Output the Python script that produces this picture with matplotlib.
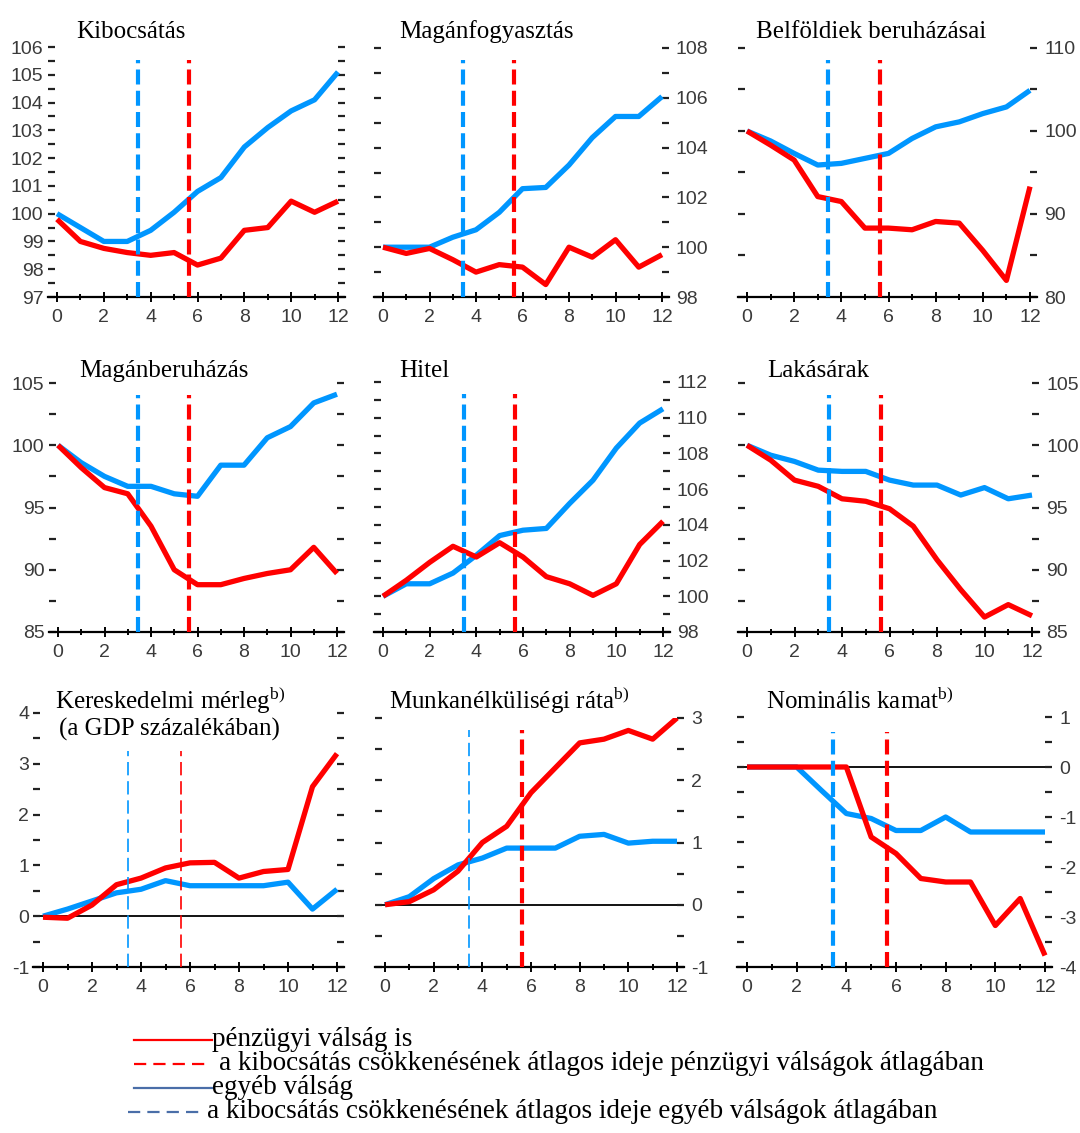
import matplotlib
matplotlib.use("Agg")
import matplotlib.pyplot as plt
from matplotlib.lines import Line2D
from matplotlib.ticker import MultipleLocator

plt.rcParams['mathtext.fontset'] = 'custom'
plt.rcParams['mathtext.rm'] = 'Liberation Serif'
plt.rcParams['mathtext.it'] = 'Liberation Serif:italic'
plt.rcParams['axes.unicode_minus'] = False

# ---------------- data ----------------
quarters = [0, 1, 2, 3, 4, 5, 6, 7, 8, 9, 10, 11, 12]
x_tick_labels = [0, 2, 4, 6, 8, 10, 12]
avg_fin_crisis = 5.65    # red dashed
avg_other_crisis = 3.45  # blue dashed

kib_fin   = [99.8, 99.0, 98.75, 98.6, 98.5, 98.6, 98.15, 98.4, 99.4, 99.5, 100.45, 100.05, 100.45]
kib_other = [100.0, 99.5, 99.0, 99.0, 99.4, 100.05, 100.8, 101.3, 102.4, 103.1, 103.7, 104.1, 105.1]

mf_fin   = [100.0, 99.75, 99.95, 99.5, 99.0, 99.3, 99.2, 98.5, 100.0, 99.6, 100.3, 99.2, 99.7]
mf_other = [100.0, 100.0, 100.0, 100.4, 100.7, 101.4, 102.35, 102.4, 103.3, 104.4, 105.25, 105.25, 106.05]

bb_fin   = [100.0, 98.3, 96.5, 92.1, 91.5, 88.3, 88.3, 88.1, 89.1, 88.9, 85.6, 82.0, 93.3]
bb_other = [100.0, 98.8, 97.3, 95.9, 96.1, 96.7, 97.3, 99.1, 100.5, 101.1, 102.1, 102.9, 104.9]

mb_fin   = [100.0, 98.2, 96.6, 96.1, 93.5, 90.0, 88.8, 88.8, 89.3, 89.7, 90.0, 91.8, 89.7]
mb_other = [100.0, 98.6, 97.5, 96.7, 96.7, 96.1, 95.9, 98.4, 98.4, 100.6, 101.5, 103.4, 104.1]

hit_fin   = [100.0, 100.9, 101.9, 102.8, 102.2, 103.0, 102.2, 101.1, 100.7, 100.05, 100.7, 102.9, 104.2]
hit_other = [100.0, 100.7, 100.7, 101.3, 102.3, 103.4, 103.7, 103.8, 105.2, 106.5, 108.3, 109.7, 110.5]

lak_fin   = [100.0, 98.8, 97.2, 96.7, 95.7, 95.5, 94.9, 93.5, 90.8, 88.4, 86.2, 87.2, 86.3]
lak_other = [100.0, 99.2, 98.7, 98.0, 97.9, 97.9, 97.2, 96.8, 96.8, 96.0, 96.6, 95.7, 96.0]

ker_fin   = [-0.02, -0.04, 0.22, 0.62, 0.75, 0.95, 1.05, 1.06, 0.75, 0.88, 0.92, 2.55, 3.2]
ker_other = [0.0, 0.14, 0.3, 0.46, 0.53, 0.7, 0.6, 0.6, 0.6, 0.6, 0.67, 0.14, 0.53]

mun_fin   = [0.0, 0.05, 0.24, 0.54, 1.0, 1.26, 1.8, 2.2, 2.6, 2.66, 2.8, 2.66, 3.0]
mun_other = [0.0, 0.13, 0.42, 0.64, 0.75, 0.91, 0.91, 0.91, 1.1, 1.13, 0.99, 1.02, 1.02]

kam_fin   = [0.0, 0.0, 0.0, 0.0, 0.0, -1.4, -1.73, -2.23, -2.3, -2.3, -3.17, -2.63, -3.77]
kam_other = [0.0, 0.0, 0.0, -0.47, -0.93, -1.03, -1.27, -1.27, -1.0, -1.3, -1.3, -1.3, -1.3]

legend_labels = [
    "pénzügyi válság is",
    "a kibocsátás csökkenésének átlagos ideje pénzügyi válságok átlagában",
    "egyéb válság",
    "a kibocsátás csökkenésének átlagos ideje egyéb válságok átlagában",
]

# ---------------- style ----------------
W, H = 1080, 1133
RED = '#ff0000'
BLUE = '#0096ff'
LEG_BLUE = '#4a6ea8'
TICK_COLOR = '#3a3a3a'
TICK_FONT = ['Liberation Sans Narrow', 'Liberation Sans', 'DejaVu Sans']
SERIF = ['Liberation Serif', 'DejaVu Serif']
XMIN, XMAX = -0.4, 12.3

fig = plt.figure(figsize=(W / 100, H / 100), dpi=100)

panels = [
    dict(fin=kib_fin, other=kib_other, ylim=(97, 106), major=1, minor=0.5, side='left',
         geo=(57, 338, 47, 297), title='Kibocsátás', tpos=(76, 38), thick=(True, True), ymax=0.95, zero=False),
    dict(fin=mf_fin, other=mf_other, ylim=(98, 108), major=2, minor=1, side='right',
         geo=(383, 662, 48, 297), title='Magánfogyasztás', tpos=(399, 38), thick=(True, True), ymax=0.95, zero=False),
    dict(fin=bb_fin, other=bb_other, ylim=(80, 110), major=10, minor=5, side='right',
         geo=(747, 1030, 48, 297), title='Belföldiek beruházásai', tpos=(756, 38), thick=(True, True), ymax=0.95, zero=False),
    dict(fin=mb_fin, other=mb_other, ylim=(85, 105), major=5, minor=2.5, side='left',
         geo=(58, 337, 383, 632), title='Magánberuházás', tpos=(79, 377), thick=(True, True), ymax=0.95, zero=False),
    dict(fin=hit_fin, other=hit_other, ylim=(98, 112), major=2, minor=1, side='right',
         geo=(383, 663, 382, 632), title='Hitel', tpos=(399, 377), thick=(True, True), ymax=0.95, zero=False),
    dict(fin=lak_fin, other=lak_other, ylim=(85, 105), major=5, minor=2.5, side='right',
         geo=(747, 1032, 383, 632), title='Lakásárak', tpos=(767, 377), thick=(True, True), ymax=0.95, zero=False),
    dict(fin=ker_fin, other=ker_other, ylim=(-1, 4), major=1, minor=0.5, side='left',
         geo=(43, 337, 713, 967), title='Kereskedelmi mérleg$^{\\mathrm{b)}}$', tpos=(55, 708),
         thick=(False, False), ymax=0.85, zero=True),
    dict(fin=mun_fin, other=mun_other, ylim=(-1, 3), major=1, minor=0.5, side='right',
         geo=(385, 677, 718, 967), title='Munkanélküliségi ráta$^{\\mathrm{b)}}$', tpos=(389, 708),
         thick=(True, False), ymax=0.95, zero=True),
    dict(fin=kam_fin, other=kam_other, ylim=(-4, 1), major=1, minor=0.5, side='right',
         geo=(747, 1045, 717, 967), title='Nominális kamat$^{\\mathrm{b)}}$', tpos=(766, 708),
         thick=(True, True), ymax=0.94, zero=True),
]

for p in panels:
    x0, x12, ytop, ybot = p['geo']
    per = (x12 - x0) / 12.0
    left = x0 + XMIN * per
    right = x0 + XMAX * per
    ax = fig.add_axes([left / W, 1 - ybot / H, (right - left) / W, (ybot - ytop) / H])
    ax.set_xlim(XMIN, XMAX)
    ax.set_ylim(*p['ylim'])
    for s in ('top', 'left', 'right'):
        ax.spines[s].set_visible(False)
    ax.spines['bottom'].set_linewidth(1.6)
    ax.patch.set_alpha(0)

    if p['zero']:
        ax.axhline(0, color='black', lw=1.3, zorder=1)

    ax.plot(quarters, p['other'], color=BLUE, lw=3.8, solid_capstyle='butt', zorder=3)
    ax.plot(quarters, p['fin'], color=RED, lw=3.8, solid_capstyle='butt', zorder=3)

    fin_thick, oth_thick = p['thick']
    for xv, col, thick in ((avg_other_crisis, BLUE, oth_thick), (avg_fin_crisis, RED, fin_thick)):
        if thick:
            ax.axvline(xv, ymin=0, ymax=p['ymax'], color=col, lw=3.0, dashes=(3.6, 1.5), zorder=4)
        else:
            ax.axvline(xv, ymin=0, ymax=p['ymax'], color=col, lw=1.2, dashes=(8, 3.5), zorder=4)

    ax.set_xticks(x_tick_labels)
    ax.xaxis.set_minor_locator(MultipleLocator(1))
    ax.tick_params(axis='x', which='major', direction='inout', length=7, width=1.4, color='black',
                   pad=5, labelsize=14, labelcolor=TICK_COLOR)
    ax.tick_params(axis='x', which='minor', direction='inout', length=5, width=1.4, color='black')

    ax.yaxis.set_major_locator(MultipleLocator(p['major']))
    ax.yaxis.set_minor_locator(MultipleLocator(p['minor']))
    if p['side'] == 'left':
        ax.tick_params(axis='y', which='both', left=True, right=True, labelleft=True, labelright=False,
                       direction='in', length=5, width=1.6, color='#222222', pad=3,
                       labelsize=14, labelcolor=TICK_COLOR)
    else:
        ax.tick_params(axis='y', which='both', left=True, right=True, labelleft=False, labelright=True,
                       direction='in', length=5, width=1.6, color='#222222', pad=5,
                       labelsize=14, labelcolor=TICK_COLOR)
    ax.set_ylim(*p['ylim'])
    for lab in ax.get_xticklabels() + ax.get_yticklabels():
        lab.set_family(TICK_FONT)

    fig.text(p['tpos'][0] / W, 1 - p['tpos'][1] / H, p['title'], family=SERIF, fontsize=18,
             ha='left', va='baseline', color='black')

fig.text(59 / W, 1 - 736 / H, '(a GDP százalékában)', family=SERIF, fontsize=18,
         ha='left', va='baseline', color='black')

# ---------------- legend ----------------
leg_rows = [1040, 1064, 1088, 1112]
leg_styles = [
    dict(color=RED, ls='-', x0=134, x1=212, tx=212),
    dict(color=RED, ls='--', x0=134, x1=210, tx=219),
    dict(color=LEG_BLUE, ls='-', x0=134, x1=212, tx=212),
    dict(color=LEG_BLUE, ls='--', x0=128, x1=205, tx=207),
]
for y, st, txt in zip(leg_rows, leg_styles, legend_labels):
    yy = 1 - y / H
    if st['ls'] == '-':
        fig.add_artist(Line2D([st['x0'] / W, st['x1'] / W], [yy, yy], color=st['color'], lw=1.6,
                              transform=fig.transFigure))
    else:
        fig.add_artist(Line2D([st['x0'] / W, st['x1'] / W], [yy, yy], color=st['color'], lw=1.6,
                              dashes=(5.5, 3.2), transform=fig.transFigure))
    fig.text(st['tx'] / W, yy, txt, family=SERIF, fontsize=19.5, ha='left', va='center', color='black')

fig.savefig('out.png', dpi=100)
